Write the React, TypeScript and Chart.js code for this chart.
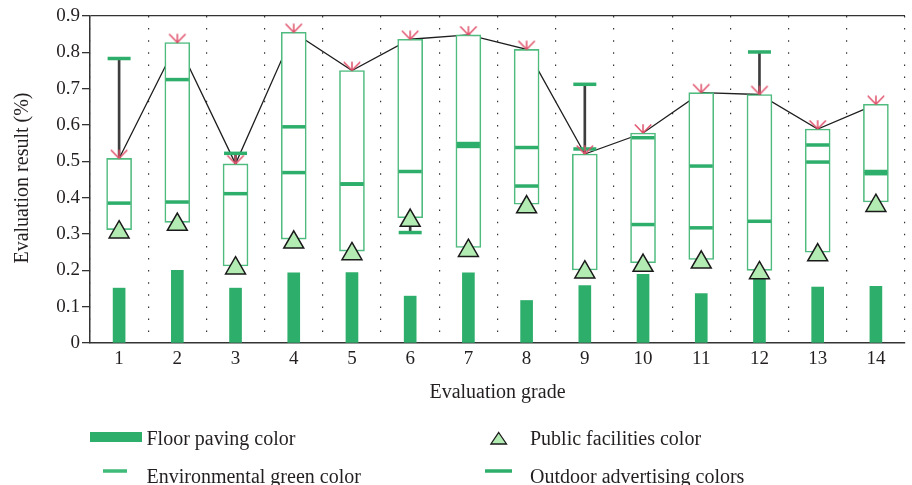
import React, { useEffect, useRef } from 'react';
import { Chart, registerables } from 'chart.js';

Chart.register(...registerables);

// ---------- data ----------
const grades = ['1', '2', '3', '4', '5', '6', '7', '8', '9', '10', '11', '12', '13', '14'];
const yTickLabels = ['0', '0.1', '0.2', '0.3', '0.4', '0.5', '0.6', '0.7', '0.8', '0.9'];

const floorPaving = [0.151, 0.2, 0.151, 0.193, 0.194, 0.129, 0.193, 0.117, 0.158, 0.189, 0.136, 0.185, 0.154, 0.156];
const boxLow = [0.312, 0.332, 0.212, 0.286, 0.253, 0.345, 0.263, 0.382, 0.201, 0.221, 0.23, 0.2, 0.25, 0.388];
const boxHigh = [0.508, 0.827, 0.493, 0.855, 0.75, 0.836, 0.848, 0.808, 0.52, 0.578, 0.689, 0.684, 0.589, 0.657];
const environmentalGreen = [0.783, 0.725, 0.522, 0.595, 0.438, 0.472, 0.549, 0.538, 0.712, 0.565, 0.487, 0.801, 0.545, 0.472];
const outdoorAdvertising = [0.385, 0.388, 0.411, 0.469, 0.437, 0.304, 0.541, 0.432, 0.534, 0.326, 0.317, 0.335, 0.498, 0.466];
const publicFacilities = [0.305, 0.326, 0.206, 0.277, 0.245, 0.337, 0.254, 0.374, 0.195, 0.213, 0.222, 0.193, 0.242, 0.378];
const whiskerEnd = [0.783, null, 0.522, null, null, 0.304, null, null, 0.712, null, null, 0.801, null, null];

const legendNames = ['Floor paving color', 'Public facilities color', 'Environmental green color', 'Outdoor advertising colors'];
const xTitle = 'Evaluation grade';
const yTitle = 'Evaluation result (%)';

// ---------- styles ----------
const FONT = '"Liberation Serif", "Times New Roman", serif';
const TEXT = '#231f20';
const AXIS = '#333333';
const GREEN = '#2eae6b';
const GREEN_LIGHT = '#3fbb79';
const BOX = '#4fbb7e';
const TRI_FILL = '#b2ecb2';
const RED = '#e0506a';

const whiskers = whiskerEnd.map((e, i) => {
  if (e === null) return null;
  return e > boxHigh[i] ? [boxHigh[i], e] : [e, boxLow[i]];
});
const boxes = boxLow.map((lo, i) => [lo, boxHigh[i]]);

const overlayPlugin = {
  id: 'overlay',
  afterDraw(chart: any) {
    const ctx = chart.ctx as CanvasRenderingContext2D;
    ctx.save();
    ctx.fillStyle = TEXT;
    ctx.font = `20px ${FONT}`;
    ctx.textBaseline = 'alphabetic';
    ctx.textAlign = 'center';
    const a = chart.chartArea;
    ctx.fillText(xTitle, (a.left + a.right) / 2, 398);
    ctx.save();
    ctx.translate(28, 178);
    ctx.rotate(-Math.PI / 2);
    ctx.fillText(yTitle, 0, 0);
    ctx.restore();

    // legend
    ctx.textAlign = 'left';
    // floor paving rect
    ctx.fillStyle = GREEN;
    ctx.fillRect(90, 432, 52, 10);
    // env dash
    ctx.strokeStyle = GREEN_LIGHT;
    ctx.lineWidth = 3.5;
    ctx.beginPath();
    ctx.moveTo(103, 471);
    ctx.lineTo(127, 471);
    ctx.stroke();
    // outdoor dash
    ctx.strokeStyle = GREEN;
    ctx.beginPath();
    ctx.moveTo(485, 471);
    ctx.lineTo(512, 471);
    ctx.stroke();
    // triangle
    ctx.fillStyle = TRI_FILL;
    ctx.strokeStyle = '#1a1a1a';
    ctx.lineWidth = 1.3;
    ctx.beginPath();
    ctx.moveTo(498.7, 432.5);
    ctx.lineTo(506.5, 444);
    ctx.lineTo(490.9, 444);
    ctx.closePath();
    ctx.fill();
    ctx.stroke();

    ctx.fillStyle = TEXT;
    ctx.fillText(legendNames[0], 146.5, 445);
    ctx.fillText(legendNames[1], 530, 444.5);
    ctx.fillText(legendNames[2], 146.5, 483);
    ctx.fillText(legendNames[3], 530, 483);
    ctx.restore();
  },
};

export default function App() {
  const ref = useRef<HTMLCanvasElement>(null);

  useEffect(() => {
    const canvas = ref.current;
    if (!canvas) return;

    const marker = document.createElement('canvas');
    marker.width = 20;
    marker.height = 20;
    const m = marker.getContext('2d')!;
    m.strokeStyle = RED;
    m.lineWidth = 1.5;
    m.lineCap = 'butt';
    m.beginPath();
    m.moveTo(10, 10);
    m.lineTo(1.8, 1.6);
    m.moveTo(10, 10);
    m.lineTo(10, 1.2);
    m.moveTo(10, 10);
    m.lineTo(18.2, 1.6);
    m.stroke();

    const tickFont = { family: FONT, size: 19 };

    const chart = new Chart(canvas, {
      type: 'bar',
      data: {
        labels: grades,
        datasets: [
          {
            type: 'line',
            label: 'tops',
            data: boxHigh,
            borderColor: '#1f1f1f',
            borderWidth: 1.3,
            pointRadius: 0,
            fill: false,
            order: 10,
          } as any,
          {
            type: 'bar',
            label: 'whiskers',
            data: whiskers as any,
            backgroundColor: '#3d3d3d',
            barThickness: 2,
            grouped: false,
            order: 9,
          },
          {
            type: 'bar',
            label: 'range',
            data: boxes as any,
            backgroundColor: '#ffffff',
            borderColor: BOX,
            borderWidth: 1.6,
            borderSkipped: false,
            barThickness: 25,
            grouped: false,
            order: 8,
          },
          {
            type: 'bar',
            label: legendNames[0],
            data: floorPaving,
            backgroundColor: GREEN,
            barThickness: 12,
            grouped: false,
            order: 7,
          },
          {
            type: 'line',
            label: legendNames[2],
            data: environmentalGreen,
            showLine: false,
            pointStyle: 'line',
            pointRadius: 11.5,
            pointBorderWidth: 3.5,
            pointBorderColor: GREEN,
            pointBackgroundColor: GREEN,
            borderColor: GREEN,
            order: 4,
          } as any,
          {
            type: 'line',
            label: legendNames[3],
            data: outdoorAdvertising,
            showLine: false,
            pointStyle: 'line',
            pointRadius: 11.5,
            pointBorderWidth: 3.5,
            pointBorderColor: GREEN,
            pointBackgroundColor: GREEN,
            borderColor: GREEN,
            order: 3,
          } as any,
          {
            type: 'line',
            label: legendNames[1],
            data: publicFacilities,
            showLine: false,
            pointStyle: 'triangle',
            pointRadius: 11.5,
            pointBorderWidth: 1.5,
            pointBorderColor: '#1a1a1a',
            pointBackgroundColor: TRI_FILL,
            borderColor: '#1a1a1a',
            order: 2,
          } as any,
          {
            type: 'line',
            label: 'markers',
            data: boxHigh,
            showLine: false,
            pointStyle: marker,
            pointRadius: 8,
            order: 1,
          } as any,
        ],
      },
      options: {
        responsive: false,
        animation: false,
        events: [],
        layout: { padding: { top: 16, left: 0, right: 0, bottom: 0 } },
        plugins: {
          legend: { display: false },
          tooltip: { enabled: false },
        },
        scales: {
          x: {
            offset: true,
            grid: {
              display: true,
              offset: true,
              drawOnChartArea: true,
              drawTicks: false,
              color: AXIS,
              lineWidth: 1.2,
            },
            border: { display: true, color: AXIS, width: 1.5, dash: [1.5, 10.6] },
            ticks: { font: tickFont, color: TEXT, padding: 5, maxRotation: 0, autoSkip: false },
            afterFit: (s: any) => {
              s.height = 142;
            },
          },
          y: {
            min: 0,
            max: 0.9,
            ticks: {
              stepSize: 0.1,
              font: tickFont,
              color: TEXT,
              padding: 2,
              callback: (_v: any, i: number) => yTickLabels[i],
            },
            grid: {
              drawOnChartArea: true,
              drawTicks: true,
              tickLength: 8,
              lineWidth: 1.3,
              color: (c: any) =>
                c.tick && Math.abs(c.tick.value - 0.9) < 1e-6 ? AXIS : 'rgba(0,0,0,0)',
              tickColor: AXIS,
            },
            border: { display: true, color: AXIS, width: 1.5 },
            afterFit: (s: any) => {
              s.width = 90;
            },
          },
        },
      } as any,
      plugins: [overlayPlugin],
    });

    return () => chart.destroy();
  }, []);

  return (
    <div
      style={{
        position: 'fixed',
        left: 0,
        top: 0,
        width: 912,
        height: 485,
        overflow: 'hidden',
        background: '#ffffff',
      }}
    >
      <canvas ref={ref} width={920} height={485} style={{ display: 'block', width: 920, height: 485 }} />
    </div>
  );
}
